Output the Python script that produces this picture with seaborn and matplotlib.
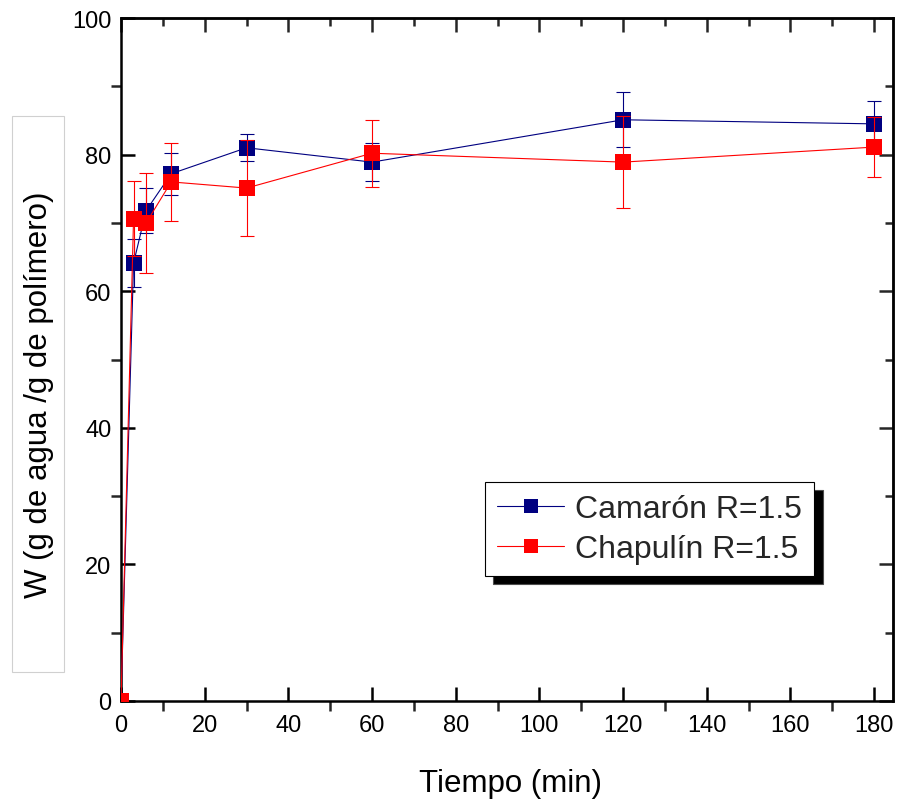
import numpy as np
import pandas as pd
import matplotlib
matplotlib.use("Agg")
import matplotlib.pyplot as plt
import seaborn as sns
from matplotlib.ticker import MultipleLocator
from matplotlib.patches import Rectangle
from matplotlib.lines import Line2D

# ---- data ----
tiempo = [0, 3, 6, 12, 30, 60, 120, 180]
camaron = [0, 64.1, 71.8, 77.2, 81.0, 78.9, 85.1, 84.5]
camaron_err = [0, 3.5, 3.3, 3.1, 2.0, 2.8, 4.0, 3.3]
chapulin = [0, 70.6, 70.0, 76.0, 75.1, 80.2, 78.9, 81.1]
chapulin_err = [0, 5.5, 7.3, 5.7, 7.0, 4.9, 6.7, 4.4]
series_names = ["Camarón R=1.5", "Chapulín R=1.5"]
colors = ["#000080", "#FF0000"]

df = pd.DataFrame({
    "Tiempo": tiempo * 2,
    "W": camaron + chapulin,
    "err": camaron_err + chapulin_err,
    "Serie": [series_names[0]] * len(tiempo) + [series_names[1]] * len(tiempo),
})

sns.set_theme(style="white")
plt.rcParams["font.family"] = ["Liberation Sans", "DejaVu Sans"]

fig = plt.figure(figsize=(9, 8.03), dpi=100)
ax = fig.add_axes([121/900, 1-702/803, (893-121)/900, (702-19)/803])

for name, col, z in zip(series_names, colors, [2, 4]):
    sub = df[df["Serie"] == name]
    ax.errorbar(sub["Tiempo"], sub["W"], yerr=sub["err"], fmt="none",
                ecolor=col, elinewidth=0.8, capsize=5, capthick=0.8, zorder=z)

sns.lineplot(data=df, x="Tiempo", y="W", hue="Serie", palette=colors,
             style="Serie", markers=["s", "s"], dashes=False, errorbar=None,
             linewidth=0.8, markersize=11, markeredgewidth=0, ax=ax,
             legend=False, zorder=5)
lines = ax.get_lines()
if len(lines) >= 2:
    lines[-2].set_zorder(3)
    lines[-1].set_zorder(5)

ax.set_xlim(0, 184.5)
ax.set_ylim(0, 100)
ax.xaxis.set_major_locator(MultipleLocator(20))
ax.xaxis.set_minor_locator(MultipleLocator(10))
ax.yaxis.set_major_locator(MultipleLocator(20))
ax.yaxis.set_minor_locator(MultipleLocator(10))

for s in ax.spines.values():
    s.set_visible(True)
    s.set_color("black")
    s.set_linewidth(1.8)

ax.tick_params(which="both", bottom=True, left=True, top=False, right=False)
ax.tick_params(which="major", direction="in", length=10, width=1.8,
               labelsize=17, colors="black", pad=7)
ax.tick_params(which="minor", direction="out", length=7, width=1.8)
ax.tick_params(axis="x", which="major", pad=9)

secx = ax.secondary_xaxis("top")
secx.xaxis.set_major_locator(MultipleLocator(20))
secx.xaxis.set_minor_locator(MultipleLocator(10))
secx.tick_params(which="both", top=True)
secx.tick_params(which="major", direction="in", length=10, width=1.8, labeltop=False)
secx.tick_params(which="minor", direction="in", length=6, width=1.8)
secx.spines["top"].set_linewidth(1.8)

secy = ax.secondary_yaxis("right")
secy.yaxis.set_major_locator(MultipleLocator(20))
secy.yaxis.set_minor_locator(MultipleLocator(10))
secy.tick_params(which="both", right=True)
secy.tick_params(which="major", direction="in", length=10, width=1.8, labelright=False)
secy.tick_params(which="minor", direction="in", length=6, width=1.8)
secy.spines["right"].set_linewidth(1.8)

ax.set_xlabel("Tiempo (min)", fontsize=22.5, color="black")
ax.set_ylabel("W (g de agua /g de polímero)", fontsize=22.5, color="black")
ax.xaxis.set_label_coords(0.504, -0.098)
ax.yaxis.set_label_coords(-0.087, 0.45)

# light gray box around y label
fig.patches.append(Rectangle((12/900, 1-673/803), 52/900, 556/803,
                             transform=fig.transFigure, fill=False,
                             edgecolor="#d0d0d0", linewidth=0.8))

handles = [Line2D([], [], color=c, marker="s", markersize=10, linewidth=0.8,
                  markeredgewidth=0) for c in colors]
leg = ax.legend(handles, series_names, loc="upper left",
                bbox_to_anchor=(485/900, 1-483/803), bbox_transform=fig.transFigure,
                fontsize=23, frameon=True, fancybox=False, edgecolor="black",
                framealpha=1, handlelength=2.1, handletextpad=0.35,
                borderpad=0.38, labelspacing=0.3, borderaxespad=0,
                shadow={"ox": 6, "oy": -6, "facecolor": "black", "alpha": 1})
leg.get_frame().set_linewidth(0.8)

fig.savefig("out.png", dpi=100)
